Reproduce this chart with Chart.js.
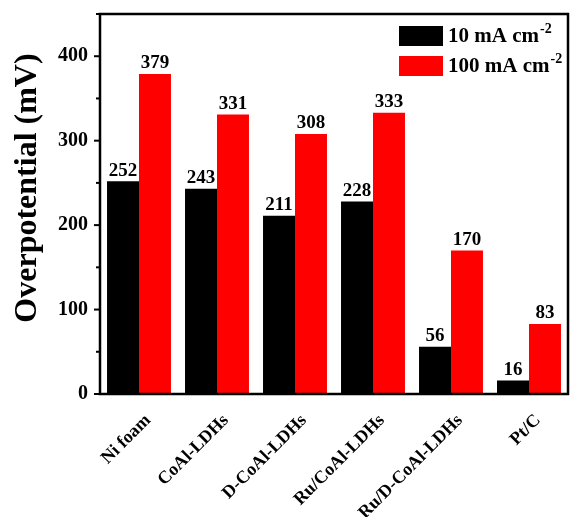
<!DOCTYPE html>
<html lang="en">
  <head>
    <meta charset="UTF-8" />
    <title>Overpotential</title>
    <style>
      body {
        margin: 0;
        background: white;
      }
      #wrap {
        width: 570px;
        height: 517px;
      }
    </style>
    <script src="https://cdn.jsdelivr.net/npm/chart.js"></script>
  </head>
  <body>
    <div id="wrap"><canvas id="chart"></canvas></div>
    <script>
      const categories = [
        "Ni foam",
        "CoAl-LDHs",
        "D-CoAl-LDHs",
        "Ru/CoAl-LDHs",
        "Ru/D-CoAl-LDHs",
        "Pt/C",
      ];
      const at10 = [252, 243, 211, 228, 56, 16];
      const at100 = [379, 331, 308, 333, 170, 83];
      const yTicks = [0, 100, 200, 300, 400];
      const seriesNames = ["10 mA cm", "100 mA cm"];
      const yTitle = "Overpotential (mV)";

      const FONT = "'Liberation Serif', 'Times New Roman', serif";

      // frame, y ticks (major + minor), value labels, legend, y title
      const decor = {
        id: "decor",
        afterDatasetsDraw(chart) {
          const ctx = chart.ctx;
          const a = chart.chartArea;
          const y = chart.scales.y;
          ctx.save();
          ctx.strokeStyle = "#000";
          ctx.lineWidth = 2.5;
          ctx.strokeRect(a.left, a.top, a.right - a.left, a.bottom - a.top);

          ctx.lineWidth = 2;
          for (let v = 0; v <= 450; v += 50) {
            const py = y.getPixelForValue(v);
            const len = v % 100 === 0 ? 6 : 4;
            ctx.beginPath();
            ctx.moveTo(a.left - len, py);
            ctx.lineTo(a.left, py);
            ctx.stroke();
          }

          // value labels
          ctx.fillStyle = "#000";
          ctx.font = "bold 19px " + FONT;
          ctx.textAlign = "center";
          ctx.textBaseline = "bottom";
          chart.data.datasets.forEach((ds, i) => {
            chart.getDatasetMeta(i).data.forEach((bar, j) => {
              ctx.fillText(ds.data[j], bar.x, bar.y - 1);
            });
          });

          // legend
          chart.data.datasets.forEach((ds, i) => {
            const cy = 36 + i * 30;
            ctx.fillStyle = ds.backgroundColor;
            ctx.fillRect(399, cy - 10, 44, 20);
            ctx.fillStyle = "#000";
            ctx.textAlign = "left";
            ctx.textBaseline = "middle";
            ctx.font = "bold 21px " + FONT;
            ctx.fillText(ds.label, 448, cy + 1);
            const w = ctx.measureText(ds.label).width;
            ctx.font = "bold 14px " + FONT;
            ctx.fillText("-2", 448 + w + 1, cy - 7);
          });

          // y title
          ctx.translate(28, 188);
          ctx.rotate(-Math.PI / 2);
          ctx.textAlign = "center";
          ctx.textBaseline = "middle";
          ctx.font = "bold 32px " + FONT;
          ctx.fillText(yTitle, 0, 0);
          ctx.restore();
        },
      };

      new Chart(document.getElementById("chart"), {
        type: "bar",
        data: {
          labels: categories,
          datasets: [
            {
              label: seriesNames[0],
              data: at10,
              backgroundColor: "#000000",
              categoryPercentage: 0.82,
              barPercentage: 1,
            },
            {
              label: seriesNames[1],
              data: at100,
              backgroundColor: "#ff0000",
              categoryPercentage: 0.82,
              barPercentage: 1,
            },
          ],
        },
        options: {
          responsive: true,
          maintainAspectRatio: false,
          animation: false,
          layout: { padding: { top: 14, right: 2, left: 0, bottom: 0 } },
          plugins: {
            legend: { display: false },
            tooltip: { enabled: false },
          },
          scales: {
            x: {
              grid: { display: false, drawTicks: false },
              border: { display: false },
              ticks: {
                color: "#000",
                font: { family: FONT, size: 18, weight: "bold" },
                minRotation: 45,
                maxRotation: 45,
                padding: 16,
                labelOffset: 9,
              },
              afterFit: (s) => {
                s.height = 123;
                s.paddingLeft = 0;
                s.paddingRight = 0;
              },
            },
            y: {
              min: 0,
              max: 450,
              grid: { display: false, drawTicks: false },
              border: { display: false },
              afterBuildTicks: (s) => {
                s.ticks = yTicks.map((v) => ({ value: v }));
              },
              ticks: {
                color: "#000",
                font: { family: FONT, size: 20, weight: "bold" },
                padding: 12,
              },
              afterFit: (s) => {
                s.width = 100;
                s.paddingTop = 0;
                s.paddingBottom = 0;
              },
            },
          },
        },
        plugins: [decor],
      });
    </script>
  </body>
</html>
